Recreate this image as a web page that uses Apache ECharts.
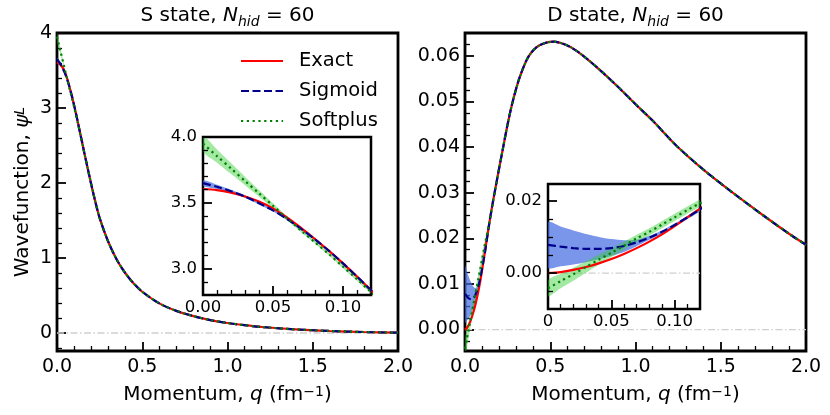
<!DOCTYPE html>
<html><head><meta charset="utf-8">
<script src="https://cdn.jsdelivr.net/npm/echarts@6/dist/echarts.min.js"></script>
<style>html,body{margin:0;padding:0;background:#fff}#c{width:830px;height:415px}</style>
</head><body><div id="c"></div>
<script>
// ---------- S state data ----------
const qS = [0,0.01,0.02,0.03,0.04,0.05,0.06,0.07,0.08,0.09,0.10,0.11,0.12,0.14,0.16,0.18,0.20,0.22,0.25,0.30,0.35,0.40,0.45,0.50,0.60,0.70,0.80,0.90,1.0,1.1,1.2,1.4,1.6,1.8,2.0];
const sExact = [3.605,3.597,3.577,3.548,3.510,3.458,3.390,3.310,3.225,3.135,3.040,2.940,2.835,2.620,2.405,2.195,1.990,1.795,1.535,1.220,0.980,0.800,0.660,0.550,0.395,0.295,0.225,0.172,0.133,0.104,0.080,0.048,0.027,0.013,0.004];
const sSigmoid = [3.650,3.622,3.588,3.548,3.497,3.443,3.377,3.303,3.222,3.135,3.040,2.940,2.835,2.620,2.405,2.195,1.990,1.795,1.535,1.220,0.980,0.800,0.660,0.550,0.395,0.295,0.225,0.172,0.133,0.104,0.080,0.048,0.027,0.013,0.004];
const sSoftplus = [3.950,3.855,3.761,3.666,3.572,3.478,3.383,3.289,3.200,3.110,3.015,2.920,2.822,2.615,2.403,2.195,1.990,1.795,1.535,1.220,0.980,0.800,0.660,0.550,0.395,0.295,0.225,0.172,0.133,0.104,0.080,0.048,0.027,0.013,0.004];
const qSBand = [0,0.01,0.02,0.03,0.04,0.05,0.06,0.07,0.08,0.09,0.10,0.11,0.12,0.14,0.16,0.20];
const sSigLo = [3.628,3.606,3.576,3.538,3.488,3.435,3.370,3.297,3.216,3.129,3.034,2.934,2.829,2.615,2.401,1.987];
const sSigHi = [3.672,3.638,3.600,3.558,3.506,3.451,3.384,3.309,3.228,3.141,3.046,2.946,2.841,2.625,2.409,1.993];
const sSoftLo = [3.890,3.805,3.720,3.633,3.546,3.459,3.369,3.278,3.190,3.100,3.004,2.908,2.809,2.607,2.398,1.988];
const sSoftHi = [4.010,3.905,3.802,3.699,3.598,3.497,3.397,3.300,3.210,3.120,3.026,2.932,2.835,2.623,2.408,1.992];

// ---------- D state data ----------
const qD = [0,0.01,0.02,0.03,0.04,0.05,0.06,0.07,0.08,0.09,0.10,0.11,0.12,0.14,0.16,0.18,0.20,0.22,0.25,0.28,0.32,0.37,0.42,0.47,0.52,0.57,0.62,0.69,0.80,0.90,1.0,1.1,1.24,1.4,1.57,1.75,1.92,2.0];
const dExact = [0,0.0003,0.0009,0.0017,0.0027,0.0039,0.0053,0.0069,0.0087,0.0107,0.0130,0.0154,0.0178,0.0227,0.0272,0.0313,0.0353,0.0392,0.0450,0.0500,0.0552,0.0597,0.0619,0.0628,0.0631,0.0627,0.0619,0.0601,0.0566,0.0531,0.0494,0.0458,0.0403,0.0350,0.0300,0.0250,0.0205,0.0186];
const dSigmoid = [0.0078,0.0073,0.0069,0.0067,0.0067,0.0069,0.0075,0.0085,0.0098,0.0114,0.0133,0.0154,0.0176,0.0227,0.0272,0.0313,0.0353,0.0392,0.0450,0.0500,0.0552,0.0597,0.0619,0.0628,0.0631,0.0627,0.0619,0.0601,0.0566,0.0531,0.0494,0.0458,0.0403,0.0350,0.0300,0.0250,0.0205,0.0186];
const dSoftplus = [-0.0042,-0.0022,-0.0003,0.0017,0.0037,0.0056,0.0076,0.0096,0.0114,0.0134,0.0154,0.0174,0.0193,0.0229,0.0272,0.0313,0.0353,0.0392,0.0450,0.0500,0.0552,0.0597,0.0619,0.0628,0.0631,0.0627,0.0619,0.0601,0.0566,0.0531,0.0494,0.0458,0.0403,0.0350,0.0300,0.0250,0.0205,0.0186];
const qDBand = [0,0.01,0.02,0.03,0.04,0.05,0.06,0.07,0.08,0.09,0.10,0.11,0.12,0.14,0.16,0.20];
const dSigLo = [0.0015,0.0019,0.0024,0.0030,0.0038,0.0047,0.0058,0.0074,0.0092,0.0109,0.0128,0.0149,0.0170,0.0223,0.0270,0.0352];
const dSigHi = [0.0141,0.0129,0.0118,0.0108,0.0100,0.0094,0.0091,0.0092,0.0103,0.0118,0.0137,0.0158,0.0180,0.0230,0.0274,0.0354];
const dSoftLo = [-0.0064,-0.0042,-0.0021,0.0001,0.0023,0.0044,0.0065,0.0086,0.0104,0.0124,0.0144,0.0164,0.0183,0.0222,0.0268,0.0351];
const dSoftHi = [-0.0020,-0.0002,0.0015,0.0033,0.0051,0.0068,0.0087,0.0106,0.0124,0.0144,0.0164,0.0184,0.0203,0.0236,0.0276,0.0355];

// reference zero lines
const zeroMainX = [0, 2];
const zeroInsetX = [0, 0.12];
const zeroY = [0, 0];

// ---------- ticks ----------
const xMainTicks = [0,0.5,1,1.5,2];
const xMainLabels = ['0.0','0.5','1.0','1.5','2.0'];
const xMainMinor = [0.1,0.2,0.3,0.4,0.6,0.7,0.8,0.9,1.1,1.2,1.3,1.4,1.6,1.7,1.8,1.9];
const ySTicks = [0,1,2,3,4];
const ySLabels = ['0','1','2','3','4'];
const ySMinor = [-0.2,0.2,0.4,0.6,0.8,1.2,1.4,1.6,1.8,2.2,2.4,2.6,2.8,3.2,3.4,3.6,3.8];
const yDTicks = [0,0.01,0.02,0.03,0.04,0.05,0.06];
const yDLabels = ['0.00','0.01','0.02','0.03','0.04','0.05','0.06'];
const yDMinor = [-0.0025,0.0025,0.005,0.0075,0.0125,0.015,0.0175,0.0225,0.025,0.0275,0.0325,0.035,0.0375,0.0425,0.045,0.0475,0.0525,0.055,0.0575,0.0625];
const xInsTicks = [0,0.05,0.10];
const xInsSLabels = ['0.00','0.05','0.10'];
const xInsDLabels = ['0','0.05','0.10'];
const xInsMinor = [0.01,0.02,0.03,0.04,0.06,0.07,0.08,0.09,0.11];
const yInsSTicks = [3.0,3.5,4.0];
const yInsSLabels = ['3.0','3.5','4.0'];
const yInsSMinor = [2.9,3.1,3.2,3.3,3.4,3.6,3.7,3.8,3.9];
const yInsDTicks = [0,0.02];
const yInsDLabels = ['0.00','0.02'];
const yInsDMinor = [-0.005,0.005,0.01,0.015];

const FONT = 'DejaVu Sans';
const C_EXACT = '#ff0000', C_SIG = '#00008b', C_SOFT = '#008000';
const BAND_SIG = 'rgba(65,105,225,0.7)', BAND_SOFT = 'rgba(50,205,50,0.45)';

function fmt(vals, labels) {
  return function (v) {
    for (let i = 0; i < vals.length; i++) if (Math.abs(v - vals[i]) < 1e-9) return labels[i];
    return '';
  };
}
function axisPair(dim, grid, min, max, major, labels, minor, fs, margin, z, extra) {
  const base = {type:'value', gridIndex:grid, min:min, max:max, position: dim === 'x' ? 'bottom' : 'left',
    axisLine:{show:false, onZero:false}, splitLine:{show:false}, minorTick:{show:false}, z:z};
  const maj = Object.assign({}, base, {
    axisTick:{show:true, inside:true, length:9, customValues:major, lineStyle:{color:'#000', width:1.8}},
    axisLabel:{show:true, customValues:major, formatter:fmt(major, labels), color:'#000', fontFamily:FONT, fontSize:fs, margin:margin}
  }, extra || {});
  const mnr = Object.assign({}, base, {
    axisTick:{show:true, inside:true, length:5, customValues:minor, lineStyle:{color:'#000', width:1.3}},
    axisLabel:{show:false}
  });
  return [maj, mnr];
}
const pairs = (xs, ys) => xs.map((x, i) => [x, ys[i]]);

function line(name, xs, ys, ax, color, type, z) {
  return {type:'line', name:name, data:pairs(xs, ys), xAxisIndex:ax, yAxisIndex:ax, symbol:'none',
    smooth:0.3, lineStyle:{color:color, width:2.2, type:type}, itemStyle:{color:color}, z:z, silent:true, clip:true};
}
// uncertainty band: polygon between lo and hi, drawn through the axes' scales
function band(id, xs, lo, hi, ax, color, z) {
  return {type:'custom', name:id, xAxisIndex:ax, yAxisIndex:ax, z:z, silent:true,
    data: xs.map((x, i) => [x, lo[i], hi[i]]),
    encode:{x:0, y:[1, 2]},
    renderItem: function (params, api) {
      if (params.dataIndex !== 0) return null;
      const pts = [];
      for (let i = 0; i < xs.length; i++) pts.push(api.coord([xs[i], hi[i]]));
      for (let i = xs.length - 1; i >= 0; i--) pts.push(api.coord([xs[i], lo[i]]));
      const cs = params.coordSys;
      return {type:'polygon', shape:{points:pts, smooth:0.25}, style:{fill:color, stroke:null},
        clipPath:{type:'rect', shape:{x:cs.x, y:cs.y, width:cs.width, height:cs.height}}};
    }};
}
function zero(xs, ax, z) {
  return {type:'line', name:'zero', data:pairs(xs, zeroY), xAxisIndex:ax, yAxisIndex:ax, symbol:'none',
    lineStyle:{color:'#cfcfcf', width:1.3, type:[7,2.5,1.5,2.5]}, z:z, silent:true};
}
function panelSeries(axIdx, q, ex, sg, sp, qb, sgLo, sgHi, spLo, spHi, zeroX, zb, id) {
  return [
    zero(zeroX, axIdx, zb),
    band(id + 'sg', qb, sgLo, sgHi, axIdx, BAND_SIG, zb + 1),
    band(id + 'sp', qb, spLo, spHi, axIdx, BAND_SOFT, zb + 1),
    line('Exact', q, ex, axIdx, C_EXACT, 'solid', zb + 2),
    line('Sigmoid', q, sg, axIdx, C_SIG, [8, 3.5], zb + 3),
    line('Softplus', q, sp, axIdx, C_SOFT, [2.2, 3.6], zb + 4)
  ];
}

const nameStyle = {fontSize:20, fontFamily:FONT, color:'#000',
  rich:{i:{fontStyle:'italic', fontSize:20, fontFamily:FONT}, supi:{fontStyle:'italic', fontSize:14, fontFamily:FONT, verticalAlign:'top'},
        sup:{fontSize:14, fontFamily:FONT, verticalAlign:'top'}}};
const xName = {name:'Momentum, {i|q} (fm{sup|\u22121})', nameLocation:'middle', nameGap:34, nameTextStyle:nameStyle};

const xs = [].concat(
  axisPair('x', 0, 0, 2, xMainTicks, xMainLabels, xMainMinor, 19, 7, 1, xName),
  axisPair('x', 1, 0, 2, xMainTicks, xMainLabels, xMainMinor, 19, 7, 1, xName),
  axisPair('x', 2, 0, 0.12, xInsTicks, xInsSLabels, xInsMinor, 16.5, 4, 20),
  axisPair('x', 3, 0, 0.12, xInsTicks, xInsDLabels, xInsMinor, 16.5, 4, 20)
);
const ys = [].concat(
  axisPair('y', 0, -0.24, 4.0, ySTicks, ySLabels, ySMinor, 19, 5, 1,
    {name:'Wavefunction, {i|\u03c8}{supi|L}', nameLocation:'middle', nameGap:24, nameTextStyle:nameStyle}),
  axisPair('y', 1, -0.0047, 0.065, yDTicks, yDLabels, yDMinor, 19, 5, 1),
  axisPair('y', 2, 2.8, 4.0, yInsSTicks, yInsSLabels, yInsSMinor, 16.5, 6, 20),
  axisPair('y', 3, -0.0099, 0.0246, yInsDTicks, yInsDLabels, yInsDMinor, 16.5, 6, 20)
);

const titleRich = {i:{fontStyle:'italic', fontSize:20, fontFamily:FONT, lineHeight:26},
  sub:{fontStyle:'italic', fontSize:14, fontFamily:FONT, verticalAlign:'bottom', lineHeight:12},
  n:{fontSize:20, fontFamily:FONT, lineHeight:26}};
const option = {
  animation:false,
  backgroundColor:'#fff',
  title:[
    {text:'{n|S state, }{i|N}{sub|hid}{n| = 60}', left:227.5, top:3, textAlign:'center', padding:0,
      textStyle:{fontSize:20, fontWeight:'normal', fontFamily:FONT, color:'#000', rich:titleRich}},
    {text:'{n|D state, }{i|N}{sub|hid}{n| = 60}', left:635.5, top:3, textAlign:'center', padding:0,
      textStyle:{fontSize:20, fontWeight:'normal', fontFamily:FONT, color:'#000', rich:titleRich}}
  ],
  legend:{data:['Exact','Sigmoid','Softplus'], orient:'vertical', left:240, top:51, padding:0, itemWidth:42, itemHeight:20, itemGap:10,
    selectedMode:false, z:30, itemStyle:{opacity:0},
    textStyle:{fontSize:19.5, fontFamily:FONT, color:'#000', padding:[0,0,0,11]}},
  grid:[
    {left:57, top:33, width:341, height:318, show:true, borderColor:'#000', borderWidth:2.8, backgroundColor:'transparent', z:0},
    {left:465, top:33, width:341, height:318, show:true, borderColor:'#000', borderWidth:2.8, backgroundColor:'transparent', z:0},
    {left:203, top:137, width:168, height:158, show:true, borderColor:'#000', borderWidth:2.5, backgroundColor:'#fff', z:10},
    {left:548, top:184, width:152, height:125, show:true, borderColor:'#000', borderWidth:2.5, backgroundColor:'#fff', z:10}
  ],
  xAxis: xs.map((a, i) => Object.assign(a, {id:'x' + i})),
  yAxis: ys.map((a, i) => Object.assign(a, {id:'y' + i})),
  series: [].concat(
    panelSeries(0, qS, sExact, sSigmoid, sSoftplus, qSBand, sSigLo, sSigHi, sSoftLo, sSoftHi, zeroMainX, 2, 'S'),
    panelSeries(2, qD, dExact, dSigmoid, dSoftplus, qDBand, dSigLo, dSigHi, dSoftLo, dSoftHi, zeroMainX, 2, 'D'),
    panelSeries(4, qS, sExact, sSigmoid, sSoftplus, qSBand, sSigLo, sSigHi, sSoftLo, sSoftHi, zeroInsetX, 12, 'Si'),
    panelSeries(6, qD, dExact, dSigmoid, dSoftplus, qDBand, dSigLo, dSigHi, dSoftLo, dSoftHi, zeroInsetX, 12, 'Di')
  )
};
const chart = echarts.init(document.getElementById('c'), null, {renderer:'canvas'});
chart.setOption(option);
</script>
</body></html>
